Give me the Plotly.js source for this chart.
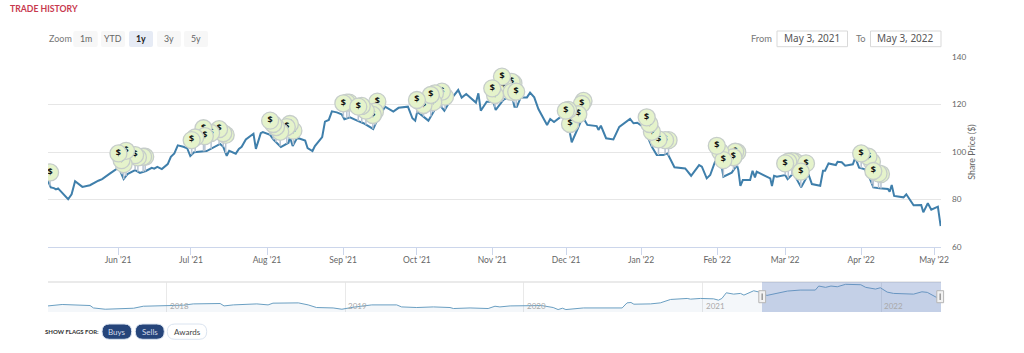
<!DOCTYPE html>
<html>
<head>
<meta charset="utf-8">
<script src="https://cdn.plot.ly/plotly-3.0.1.min.js"></script>
<style>html,body{margin:0;padding:0;background:#fff}#chart{width:1024px;height:353px}</style>
</head>
<body>
<div id="chart"></div>
<script>
// Trading-session index and share price
const sessions = [0,.8,1.7,2.3,2.9,5.8,6.8,7.8,9.9,12.1,14.5,15.6,17.9,20.3,20.7,21.8,22.9,25.1,26.5,28.2,29.9,30.6,31.5,32.8,34.5,35.4,36.4,37.4,39,40.1,41,42.1,45.7,49.6,50.5,51.5,52.2,54.1,55,55.8,57,59.2,59.9,61.3,61.9,64,64.9,67.1,69.3,69.7,70.5,71.8,74.1,74.8,76.2,76.9,79,79.8,80.9,81.8,83.2,84.6,85.4,87,89.4,90.9,93.7,94.9,97.1,99.5,101,103.7,105,105.8,106.4,109.6,112.5,114.2,116.3,118.2,119.2,120.5,123.3,124,124.7,126.4,128.3,129,131.2,133.6,134.4,135.1,136.2,138,138.9,140.1,141.3,143.8,144.7,145.8,147.8,149,150.1,150.9,153.3,154.3,155.4,158.1,158.6,159.3,160.8,162.9,164.6,167.7,168.7,169.8,171.6,174,175.4,177.3,178.5,180.5,183.6,185.3,187.6,188.4,189.8,190.8,192.2,193.7,194.6,197,198.5,198.9,199.5,200.2,202.3,203,203.7,204.2,208.1,208.6,209.2,210,212.4,213.1,214.8,217,219.1,220.1,222.5,223.3,223.9,224.9,227,227.5,228.7,229.7,231.9,232.6,233.7,235.2,236.2,237.8,239.6,242,242.5,243.1,243.8,246.5,247.3,249.4,251.6,252.2,253.5,254.5,256.4,257.2];
const prices = [87.8,85.1,84.8,84.3,84.7,80.1,82.2,87.7,85.3,86,87.9,88.6,91,93.4,92.4,88.6,90.7,92.4,91.2,92,93.3,93,93.7,92.8,94.9,98,99.4,102.8,102.2,101.6,98.3,99.9,100.4,103.4,102.2,98.4,100.5,99.3,101.3,102.2,105.3,107.7,101.3,107.9,108.4,107.2,105.3,102.1,103.9,106.2,102.5,106,104.8,101.6,100.4,102.5,106.3,112.8,113.5,117.1,116.7,115.9,113.8,114.6,113,112.1,109.7,113.5,119.1,117,118.6,119.1,114.2,113.2,117,113.2,120.5,117.4,122.6,126.1,122.9,124.4,120.8,124.7,117.4,121.2,121.2,117.7,121.9,124,119.1,119.1,123,123,125,123,118.1,111.4,113.9,112.6,114.9,114.7,110.1,104.1,112.1,114.2,111.4,110.9,109.3,111.1,105.8,105.3,110.6,113.9,112.1,112.3,110.4,102.2,98.7,98.7,99.4,93.6,93.1,90,94.5,93.8,88.9,90.3,95.9,97.3,89.6,91.3,94.5,92.4,85.7,88.2,88.2,92.1,89.3,91.7,88.9,85.7,90,89.6,90.3,88.6,91,85.1,90.7,86.5,85.8,92.1,92.1,95.2,94.5,95.9,95.7,94.2,94.8,97.6,93.4,92.8,91,85.1,84.7,84.4,83.3,86.1,81.5,80.9,82.2,77.6,77.7,74.6,78.4,75.7,77,68.8];

// Flags, back to front
const flagSessions = [.6, 28,27.4,25.9,25.1,21.8,21.2,22.5,20.3, 51.2,50.5,49.3,47,44.8,45.2,42.4,41.4, 70.7,69.7,68.8,66.9,65.7,64.9,64, 86.8,86.1,85.1,94.9,94.2,93.6,91.6,90.4,89.4, 114.4,113.5,111.5,111,108.2,110.3,106.3, 134.1,133.6,131.2,130.8,133.6,134.9,128.8,128, 154.3,153.8,150.4,152.8,149.9,149.2, 178.8,177.8,175.9,174,173.3,172.5, 198.6,198,197.5,193.7,194.6,192.7, 215.3,214.3,213.3,212.4,218.4,216.9, 240,239.3,237.4,236.4,237.8,234.3];
const flagPrices = [91.4, 98,98,97.7,98.7,94.9,96.6,100.5,99.4, 107.2,107.9,109.6,108,110,106.7,106.1,105, 109,111.8,110.5,108.5,110.5,111.8,113.2, 120.8,120.8,120.5,121.2,117,115.6,117.4,119.4,119.1, 123.3,125.4,124.7,121,119.8,124,121.9, 129,129.5,128.2,131.7,125.3,125.4,124,126.8, 121.5,120.2,111.8,115.9,117.7,117.4, 105,105,105.3,108.5,111.8,114.6, 99.9,100.1,97.8,100.1,96.6,102.6, 95.9,96.2,95.9,95.2,95.2,91.7, 90.7,91,95.9,98,92,99.4];

// Month ticks of the main axis (irregular because only trading sessions are shown)
const tickSessions = [20.2,41.2,63.1,85,106.3,128,149.3,170.9,192.8,212.4,234.3,255.3];
const tickLabels = ["Jun '21","Jul '21","Aug '21","Sep '21","Oct '21","Nov '21","Dec '21","Jan '22","Feb '22","Mar '22","Apr '22","May '22"];

// Navigator series (five years)
const navDates = ["2017-05-03","2017-06-01","2017-07-28","2017-08-04","2017-08-28","2017-10-25","2017-11-14","2018-01-01","2018-02-04","2018-02-24","2018-04-20","2018-04-28","2018-05-17","2018-07-04","2018-07-27","2018-08-06","2018-09-03","2018-09-27","2018-10-17","2018-11-03","2018-12-07","2018-12-25","2019-01-17","2019-02-24","2019-04-16","2019-04-26","2019-05-27","2019-06-30","2019-08-03","2019-08-10","2019-09-13","2019-10-20","2019-11-03","2019-11-13","2019-12-04","2020-02-06","2020-03-01","2020-03-11","2020-03-20","2020-03-27","2020-05-02","2020-06-05","2020-06-30","2020-07-20","2020-07-30","2020-08-07","2020-08-13","2020-09-16","2020-10-06","2020-10-27","2020-11-30","2020-12-07","2020-12-27","2021-01-23","2021-02-02","2021-02-09","2021-02-18","2021-03-05","2021-03-19","2021-03-26","2021-04-15","2021-04-29","2021-05-12","2021-06-23","2021-07-19","2021-08-19","2021-08-26","2021-09-09","2021-09-20","2021-10-03","2021-10-20","2021-11-20","2021-11-30","2021-12-20","2021-12-30","2022-01-13","2022-01-26","2022-03-08","2022-03-25","2022-04-05","2022-04-24","2022-05-03"];
const navPrices = [48.6,53.9,50.1,41.1,36.3,40,47.5,50.1,51.3,56.1,57.6,48.6,52.4,56.1,52.4,58.8,59.9,59.9,52.4,42.6,41.1,36.3,43.8,52.4,52.4,44.9,42.6,44.9,42.6,38.9,41.1,38.9,47.5,44.9,48.6,50.1,42.6,35.1,40,35.1,41.1,41.1,38.9,41.1,59.9,61.4,55,56.1,59.9,72.6,76.4,73.8,76.4,74.9,70,76.4,97.4,92.5,95.1,88.8,104.9,98.9,87.6,103.8,107.5,107.5,122.5,117.6,122.5,119.9,128.9,127.4,117.6,111.3,116.1,100,95.1,92.5,101.1,98.9,80.1,77.5];
const navYears = ["2018","2019","2020","2021","2022"];

const zoomLabels = ["1m","YTD","1y","3y","5y"];
const flagButtons = ["Buys","Sells","Awards"];

const FONT = 'Lato, sans-serif';
const X = p => p / 1024, Y = p => 1 - p / 353;

function rectPath(x0, y0, x1, y1, r) {
  const f = (a, b) => X(a).toFixed(5) + ' ' + Y(b).toFixed(5);
  return 'M' + f(x0 + r, y0) + ' L' + f(x1 - r, y0) + ' Q' + f(x1, y0) + ' ' + f(x1, y0 + r) +
    ' L' + f(x1, y1 - r) + ' Q' + f(x1, y1) + ' ' + f(x1 - r, y1) +
    ' L' + f(x0 + r, y1) + ' Q' + f(x0, y1) + ' ' + f(x0, y1 - r) +
    ' L' + f(x0, y0 + r) + ' Q' + f(x0, y0) + ' ' + f(x0 + r, y0) + ' Z';
}
const box = (x0, y0, x1, y1, r, fill, stroke, w) => ({
  type: 'path', xref: 'paper', yref: 'paper', path: rectPath(x0, y0, x1, y1, r),
  fillcolor: fill, line: {color: stroke || 'rgba(0,0,0,0)', width: w || 0}
});
const label = (text, x, y, size, color, extra) => Object.assign({
  text, x: X(x), y: Y(y), xref: 'paper', yref: 'paper', showarrow: false,
  xanchor: 'center', yanchor: 'middle', borderpad: 0,
  font: {family: FONT, size, color}
}, extra || {});

function lineAt(s) {
  for (let i = 1; i < sessions.length; i++) {
    if (s <= sessions[i]) {
      const t = (s - sessions[i - 1]) / (sessions[i] - sessions[i - 1]);
      return prices[i - 1] + t * (prices[i] - prices[i - 1]);
    }
  }
  return prices[prices.length - 1];
}

const stemX = [], stemY = [];
flagSessions.forEach((s, i) => { stemX.push(s, s, null); stemY.push(flagPrices[i], lineAt(s), null); });

const traces = [
  {x: sessions, y: prices, type: 'scatter', mode: 'lines', name: 'Share price',
   line: {color: '#3f7fab', width: 2}, xaxis: 'x', yaxis: 'y'},
  {x: stemX, y: stemY, type: 'scatter', mode: 'lines', name: 'Flag stems',
   line: {color: '#b7c3d2', width: 1.5}, xaxis: 'x', yaxis: 'y'}
];
flagSessions.forEach((s, i) => traces.push({
  x: [s], y: [flagPrices[i]], type: 'scatter', mode: 'markers+text', text: ['$'],
  textposition: 'middle center', textfont: {family: '"Noto Sans", sans-serif', size: 9, color: '#111', weight: 700},
  marker: {size: 17, color: '#e5f3cb', line: {color: '#c6cdca', width: 1.3}},
  xaxis: 'x', yaxis: 'y', name: 'Flag'
}));
traces.push({x: navDates, y: navPrices, type: 'scatter', mode: 'lines', name: 'Navigator',
  line: {color: '#6a9fc2', width: 1}, fill: 'tozeroy', fillcolor: 'rgba(69,114,167,0.06)',
  xaxis: 'x2', yaxis: 'y2'});

const zoomX = [[73.3,97.7],[101,125],[129,153],[157,181],[184,208]];
const flagX = [[102,131.7],[135.3,164.3],[167.3,206.7]];

const shapes = [];
zoomX.forEach((b, i) => shapes.push(box(b[0], 31, b[1], 47, 2, i === 2 ? '#e6ebf5' : '#f7f7f7')));
shapes.push(box(777, 31, 847.5, 46.7, 0, '#fff', '#d9d9d9', 1));
shapes.push(box(870.5, 31, 941, 46.7, 0, '#fff', '#d9d9d9', 1));
shapes.push(box(102, 324, 131.7, 339.3, 7.6, '#26457a', '#dbe4f0', 1));
shapes.push(box(135.3, 324, 164.3, 339.3, 7.6, '#26457a', '#dbe4f0', 1));
shapes.push(box(167.3, 324, 206.7, 339.3, 7.6, '#fff', '#dbe4f0', 1));
// navigator frame, selection and handles
shapes.push({type: 'line', xref: 'paper', yref: 'paper', x0: X(48), x1: X(941), y0: Y(282), y1: Y(282), line: {color: '#e3e3e3', width: 1.5}});
shapes.push({type: 'rect', xref: 'paper', yref: 'paper', x0: X(762), x1: X(941), y0: Y(282), y1: Y(312), fillcolor: 'rgba(102,133,194,0.34)', line: {width: 0}});
[762.2, 940.2].forEach(c => {
  shapes.push(box(c - 3.4, 290.7, c + 3.4, 302.7, 0, '#f2f2f2', '#b5b5b5', 1));
  shapes.push({type: 'line', xref: 'paper', yref: 'paper', x0: X(c), x1: X(c), y0: Y(293.5), y1: Y(300), line: {color: '#999', width: 1.5}});
});

const annotations = [
  label('TRADE HISTORY', 9, 8.3, 8.7, '#c8394e', {xanchor: 'left', font: {family: FONT, size: 8.7, color: '#c8394e', weight: 700}}),
  label('Zoom', 48, 38.7, 9, '#777', {xanchor: 'left'}),
  label('From', 773, 38.5, 9.3, '#777', {xanchor: 'right'}),
  label('To', 867, 38.5, 9.3, '#777', {xanchor: 'right'}),
  label('May 3, 2021', 812, 38.5, 10, '#555', {font: {family: '"Noto Sans", sans-serif', size: 10, color: '#555'}}),
  label('May 3, 2022', 905.5, 38.5, 10, '#555', {font: {family: '"Noto Sans", sans-serif', size: 10, color: '#555'}}),
  label('SHOW FLAGS FOR:', 43.7, 331.5, 6, '#333', {xanchor: 'left', font: {family: FONT, size: 6, color: '#333', weight: 700}})
];
zoomLabels.forEach((t, i) => {
  const c = (zoomX[i][0] + zoomX[i][1]) / 2, on = i === 2;
  annotations.push(label(t, c, 38.7, 8.8, on ? '#222' : '#666', {font: {family: FONT, size: 8.8, color: on ? '#222' : '#666', weight: on ? 700 : 400}}));
});
flagButtons.forEach((t, i) => {
  const c = (flagX[i][0] + flagX[i][1]) / 2;
  annotations.push(label(t, c, 331.5, 8, i === 2 ? '#444' : '#d4dcea'));
});
navYears.forEach(y => annotations.push({
  text: y, x: y + '-01-01', y: 48, xref: 'x2', yref: 'y2', xanchor: 'left', yanchor: 'middle',
  xshift: 1, showarrow: false, font: {family: FONT, size: 8, color: '#a9a9a9'}
}));

const layout = {
  width: 1024, height: 353, margin: {l: 0, r: 0, t: 0, b: 0},
  paper_bgcolor: '#fff', plot_bgcolor: 'rgba(0,0,0,0)', showlegend: false, hovermode: false,
  font: {family: FONT, size: 8.5, color: '#666'},
  xaxis: {domain: [X(48), X(941)], range: [0, 257.3], anchor: 'y', tickmode: 'array',
    tickvals: tickSessions, ticktext: tickLabels, ticks: 'outside', ticklen: 7, tickcolor: '#ccd6eb', tickwidth: 1,
    showline: true, linecolor: '#ccd6eb', linewidth: 1, showgrid: false, zeroline: false,
    ticklabelstandoff: -2,
    tickfont: {family: FONT, size: 8.5, color: '#666'}},
  yaxis: {domain: [Y(247), Y(57)], range: [60, 140], anchor: 'x', side: 'right', dtick: 20, tick0: 60,
    gridcolor: '#e6e6e6', gridwidth: 1, zeroline: false, showline: false, ticks: '', ticklabelstandoff: 10,
    tickfont: {family: FONT, size: 8.2, color: '#666'},
    title: {text: 'Share Price ($)', standoff: 3, font: {family: FONT, size: 8.8, color: '#666'}}},
  xaxis2: {domain: [X(48), X(941)], range: ['2017-05-03', '2022-05-03'], type: 'date', anchor: 'y2',
    showticklabels: false, ticks: '', showgrid: true, gridcolor: '#e9e9e9', dtick: 'M12', tick0: '2018-01-01',
    zeroline: false, showline: false},
  yaxis2: {domain: [Y(312), Y(282)], range: [26, 137.5], anchor: 'x2', visible: false, showgrid: false, zeroline: false},
  shapes, annotations
};
Plotly.newPlot('chart', traces, layout, {displayModeBar: false, staticPlot: true, responsive: false});
</script>
</body>
</html>
